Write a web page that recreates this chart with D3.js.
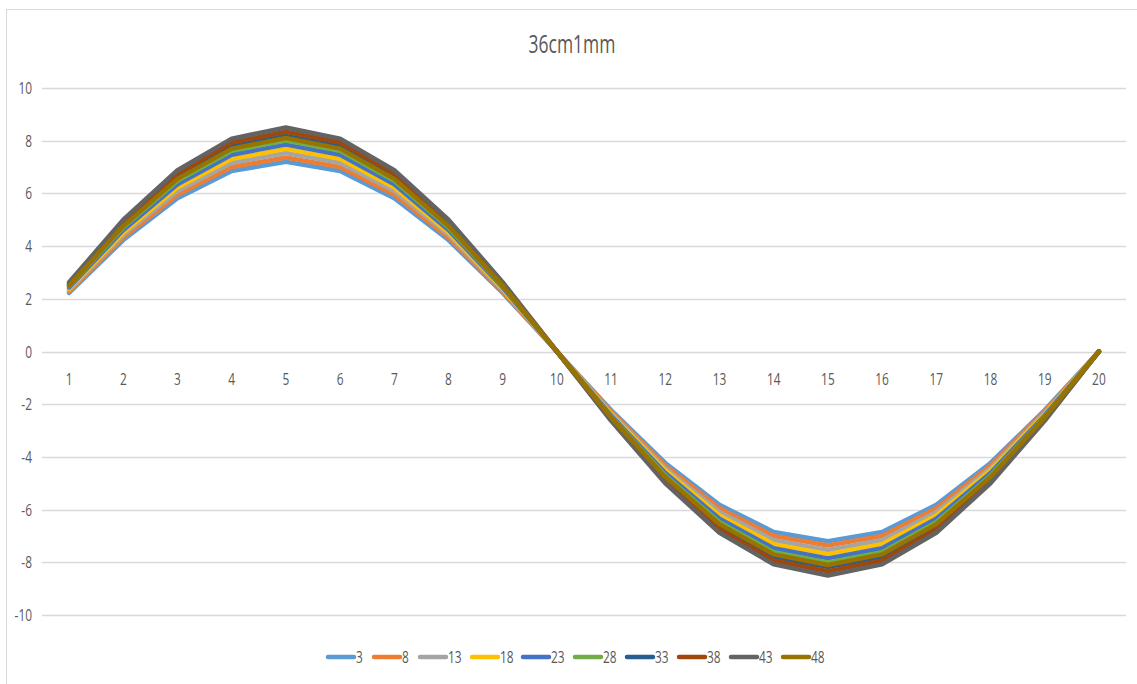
<!DOCTYPE html>
<html>
<head>
<meta charset="utf-8">
<script src="https://cdn.jsdelivr.net/npm/d3@7"></script>
<style>
  body { margin: 0; background: #fff; }
  text { font-family: "Open Sans", "Liberation Sans", sans-serif; fill: #595959; }
</style>
</head>
<body>
<svg width="1137" height="684"></svg>
<script>
// categories on the x axis
const categories = ["1","2","3","4","5","6","7","8","9","10","11","12","13","14","15","16","17","18","19","20"];
const seriesNames = ["3","8","13","18","23","28","33","38","43","48"];
const seriesColors = ["#5B9BD5","#ED7D31","#A5A5A5","#FFC000","#4472C4","#70AD47","#255E91","#9E480E","#636363","#997300"];

// values
const s3  = [2.22,4.23,5.82,6.85,7.20,6.85,5.82,4.23,2.22,0,-2.22,-4.23,-5.82,-6.85,-7.20,-6.85,-5.82,-4.23,-2.22,0];
const s8  = [2.27,4.33,5.95,7.00,7.36,7.00,5.95,4.33,2.27,0,-2.27,-4.33,-5.95,-7.00,-7.36,-7.00,-5.95,-4.33,-2.27,0];
const s13 = [2.33,4.43,6.09,7.16,7.53,7.16,6.09,4.43,2.33,0,-2.33,-4.43,-6.09,-7.16,-7.53,-7.16,-6.09,-4.43,-2.33,0];
const s18 = [2.38,4.52,6.22,7.31,7.69,7.31,6.22,4.52,2.38,0,-2.38,-4.52,-6.22,-7.31,-7.69,-7.31,-6.22,-4.52,-2.38,0];
const s23 = [2.43,4.61,6.35,7.47,7.85,7.47,6.35,4.61,2.43,0,-2.43,-4.61,-6.35,-7.47,-7.85,-7.47,-6.35,-4.61,-2.43,0];
const s28 = [2.48,4.71,6.48,7.62,8.01,7.62,6.48,4.71,2.48,0,-2.48,-4.71,-6.48,-7.62,-8.01,-7.62,-6.48,-4.71,-2.48,0];
const s33 = [2.53,4.81,6.62,7.78,8.18,7.78,6.62,4.81,2.53,0,-2.53,-4.81,-6.62,-7.78,-8.18,-7.78,-6.62,-4.81,-2.53,0];
const s38 = [2.58,4.90,6.75,7.93,8.34,7.93,6.75,4.90,2.58,0,-2.58,-4.90,-6.75,-7.93,-8.34,-7.93,-6.75,-4.90,-2.58,0];
const s43 = [2.63,5.00,6.88,8.08,8.50,8.08,6.88,5.00,2.63,0,-2.63,-5.00,-6.88,-8.08,-8.50,-8.08,-6.88,-5.00,-2.63,0];
const s48 = [2.50,4.76,6.55,7.70,8.10,7.70,6.55,4.76,2.50,0,-2.50,-4.76,-6.55,-7.70,-8.10,-7.70,-6.55,-4.76,-2.50,0];
const yTicks = [10,8,6,4,2,0,-2,-4,-6,-8,-10];

const allSeries = [s3,s8,s13,s18,s23,s28,s33,s38,s43,s48];

const svg = d3.select("svg");

// text in the picture is squeezed sideways, so scale it on x
const squeeze = 0.7;
function place(sel, fx, fy) {
  return sel.attr("transform", (d, i) => "translate(" + fx(d, i) + "," + fy(d, i) + ") scale(" + squeeze + ",1)");
}

// chart frame
svg.append("rect")
  .attr("x", 6.5).attr("y", 9.5)
  .attr("width", 1140).attr("height", 700)
  .attr("fill", "#fff")
  .attr("stroke", "#d9d9d9");

// title
place(svg.append("text").datum("36cm1mm"), () => 572, () => 53)
  .attr("text-anchor", "middle")
  .style("font-size", "25px")
  .text(d => d);

const x = d3.scaleBand()
  .domain(categories)
  .range([42, 1126]);

const y = d3.scaleLinear()
  .domain([-10, 10])
  .range([615, 88]);

// gridlines
svg.append("g")
  .selectAll("line")
  .data(yTicks)
  .enter().append("line")
  .attr("x1", 42).attr("x2", 1126)
  .attr("y1", d => Math.round(y(d)) + 0.5)
  .attr("y2", d => Math.round(y(d)) + 0.5)
  .attr("stroke", "#d9d9d9")
  .attr("stroke-width", 1.3);

// y labels
place(svg.append("g")
  .selectAll("text")
  .data(yTicks)
  .enter().append("text"), () => 32, d => y(d) + 6)
  .attr("text-anchor", "end")
  .style("font-size", "17px")
  .text(d => d);

// x labels sit under the zero line
place(svg.append("g")
  .selectAll("text")
  .data(categories)
  .enter().append("text"), d => x(d) + x.bandwidth() / 2, () => y(0) + 33)
  .attr("text-anchor", "middle")
  .style("font-size", "17px")
  .text(d => d);

const line = d3.line()
  .x((d, i) => x(categories[i]) + x.bandwidth() / 2)
  .y(d => y(d));

svg.append("g")
  .selectAll("path")
  .data(allSeries)
  .enter().append("path")
  .attr("d", line)
  .attr("fill", "none")
  .attr("stroke", (d, i) => seriesColors[i])
  .attr("stroke-width", 4.5)
  .attr("stroke-linejoin", "round")
  .attr("stroke-linecap", "round");

// legend
const legendX = [327, 373, 419, 471, 522, 574, 626, 678, 730, 782];
const entry = svg.append("g").selectAll("g")
  .data(seriesNames)
  .enter().append("g")
  .attr("transform", (d, i) => "translate(" + legendX[i] + ",657)");

entry.append("line")
  .attr("x1", 1).attr("x2", 27)
  .attr("stroke", (d, i) => seriesColors[i])
  .attr("stroke-width", 4.5)
  .attr("stroke-linecap", "round");

place(entry.append("text"), () => 29, () => 6)
  .style("font-size", "17px")
  .text(d => d);
</script>
</body>
</html>
